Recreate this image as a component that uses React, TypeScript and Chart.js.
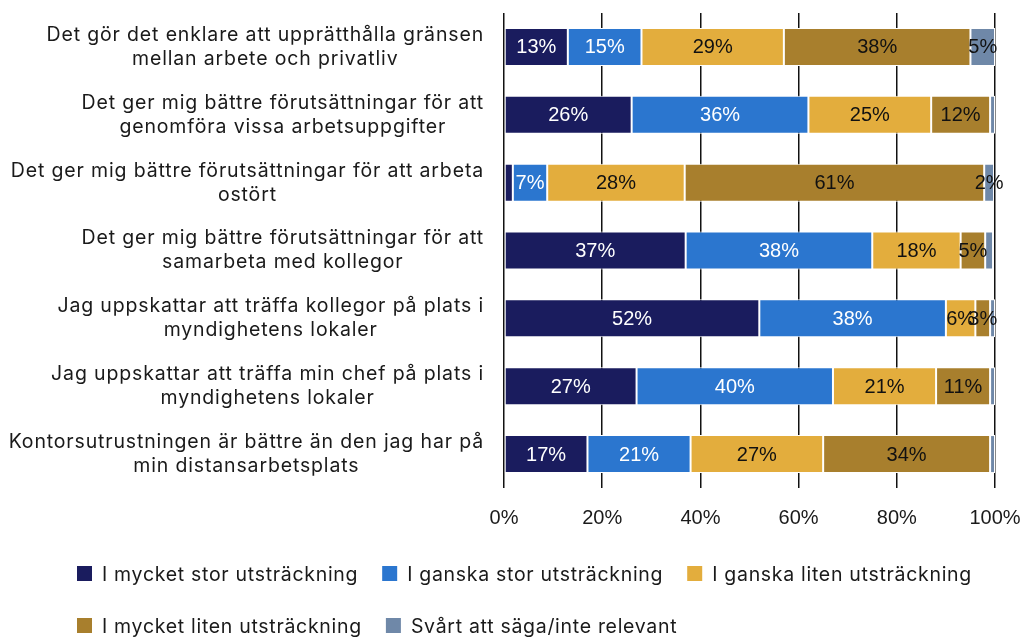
import { useEffect, useRef } from "react";
import { Chart, registerables } from "chart.js";

Chart.register(...registerables);

const categories: string[][] = [
  ["Det gör det enklare att upprätthålla gränsen", "mellan arbete och privatliv"],
  ["Det ger mig bättre förutsättningar för att", "genomföra vissa arbetsuppgifter"],
  ["Det ger mig bättre förutsättningar för att arbeta", "ostört"],
  ["Det ger mig bättre förutsättningar för att", "samarbeta med kollegor"],
  ["Jag uppskattar att träffa kollegor på plats i", "myndighetens lokaler"],
  ["Jag uppskattar att träffa min chef på plats i", "myndighetens lokaler"],
  ["Kontorsutrustningen är bättre än den jag har på", "min distansarbetsplats"],
];

const seriesNames = [
  "I mycket stor utsträckning",
  "I ganska stor utsträckning",
  "I ganska liten utsträckning",
  "I mycket liten utsträckning",
  "Svårt att säga/inte relevant",
];

const mycketStor = [13, 26, 1.8, 37, 52, 27, 17];
const ganskaStor = [15, 36, 7, 38, 38, 40, 21];
const ganskaLiten = [29, 25, 28, 18, 6, 21, 27];
const mycketLiten = [38, 12, 61, 5, 3, 11, 34];
const svart = [5, 1, 2, 1.6, 1, 1, 1];

const xTickValues = [0, 20, 40, 60, 80, 100];

const seriesValues = [mycketStor, ganskaStor, ganskaLiten, mycketLiten, svart];
const seriesColors = ["#1a1c5e", "#2b76cf", "#e3ad3d", "#a87f2d", "#6f88a8"];
const labelColors = ["#ffffff", "#ffffff", "#111111", "#111111", "#111111"];
const legendRows = [[0, 1, 2], [3, 4]];

const CAT_FONT = "19.5px Inter";
const DATA_FONT = "20px 'Liberation Sans'";
const LEGEND_FONT = "19.5px Inter";

const categoryLabelPlugin = {
  id: "categoryLabels",
  afterDraw(chart: any) {
    const ctx = chart.ctx;
    const yScale = chart.scales.y;
    ctx.save();
    ctx.font = CAT_FONT;
    (ctx as any).letterSpacing = "0.85px";
    ctx.fillStyle = "#1a1a1a";
    ctx.textAlign = "center";
    ctx.textBaseline = "middle";
    categories.forEach((lines, i) => {
      const cy = yScale.getPixelForValue(i);
      const widest = Math.max(...lines.map((l) => ctx.measureText(l).width));
      const cx = chart.chartArea.left - 20 - widest / 2;
      lines.forEach((l, j) => {
        ctx.fillText(l, cx, cy + (j - (lines.length - 1) / 2) * 24);
      });
    });
    ctx.restore();
  },
};

const dataLabelPlugin = {
  id: "dataLabels",
  afterDatasetsDraw(chart: any) {
    const ctx = chart.ctx;
    ctx.save();
    ctx.font = DATA_FONT;
    ctx.textAlign = "center";
    ctx.textBaseline = "middle";
    chart.data.datasets.forEach((ds: any, di: number) => {
      const meta = chart.getDatasetMeta(di);
      meta.data.forEach((el: any, i: number) => {
        const v = ds.data[i];
        if (v < 2) return;
        const { x, base, y } = el.getProps(["x", "base", "y"], true);
        ctx.fillStyle = labelColors[di];
        ctx.fillText(Math.round(v) + "%", (x + base) / 2, y + 1);
      });
    });
    ctx.restore();
  },
};

const legendPlugin = {
  id: "customLegend",
  afterDraw(chart: any) {
    const ctx = chart.ctx;
    ctx.save();
    ctx.font = LEGEND_FONT;
    (ctx as any).letterSpacing = "0.7px";
    ctx.textBaseline = "middle";
    ctx.textAlign = "left";
    const startX = 69;
    const firstRowY = chart.chartArea.bottom + 87;
    legendRows.forEach((row, r) => {
      let x = startX;
      const cy = firstRowY + r * 52;
      row.forEach((si) => {
        ctx.fillStyle = seriesColors[si];
        ctx.fillRect(x, cy - 9, 15, 15);
        x += 25;
        ctx.fillStyle = "#1a1a1a";
        ctx.fillText(seriesNames[si], x, cy);
        x += ctx.measureText(seriesNames[si]).width + 24;
      });
    });
    ctx.restore();
  },
};

export default function App() {
  const ref = useRef<HTMLCanvasElement | null>(null);

  useEffect(() => {
    if (!ref.current) return;
    const chart = new Chart(ref.current, {
      type: "bar",
      data: {
        labels: categories.map((c) => c.join(" ")),
        datasets: seriesValues.map((vals, i) => ({
          label: seriesNames[i],
          data: vals,
          backgroundColor: seriesColors[i],
          borderColor: "#ffffff",
          borderWidth: 1,
          borderSkipped: false,
          barPercentage: 1,
          categoryPercentage: 0.56,
        })),
      },
      options: {
        indexAxis: "y",
        responsive: true,
        maintainAspectRatio: false,
        animation: false,
        layout: { padding: { top: 5, right: 29, bottom: 100, left: 0 } },
        plugins: {
          legend: { display: false },
          tooltip: { enabled: false },
        },
        scales: {
          x: {
            stacked: true,
            min: 0,
            max: 100,
            afterBuildTicks: (s: any) => {
              s.ticks = xTickValues.map((v) => ({ value: v }));
            },
            ticks: {
              callback: (v: any) => v + "%",
              font: { family: "'Liberation Sans'", size: 20 },
              color: "#1a1a1a",
              padding: 18,
              maxRotation: 0,
            },
            grid: { color: "#111111", lineWidth: 1.5, drawTicks: false },
            border: { display: false },
            afterFit: (s: any) => {
              s.height = 50;
              s.paddingLeft = 0;
              s.paddingRight = 0;
            },
          },
          y: {
            stacked: true,
            ticks: { display: false },
            grid: { display: false },
            border: { display: false },
            afterFit: (s: any) => {
              s.width = 496;
            },
          },
        },
      },
      plugins: [categoryLabelPlugin, dataLabelPlugin, legendPlugin],
    });
    return () => chart.destroy();
  }, []);

  return (
    <div style={{ position: "fixed", left: 8, top: 8, width: 1016, height: 630 }}>
      <canvas ref={ref} />
    </div>
  );
}
